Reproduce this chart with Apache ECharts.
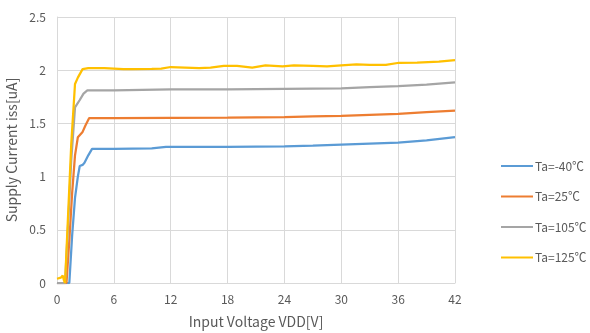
<!DOCTYPE html>
<html>
<head>
<meta charset="utf-8">
<script src="https://cdn.jsdelivr.net/npm/echarts@6/dist/echarts.min.js"></script>
<style>
html,body{margin:0;padding:0;background:#fff;}
#c{width:590px;height:333px;}
</style>
</head>
<body>
<div id="c"></div>
<script>
var seriesNames = ['Ta=-40℃', 'Ta=25℃', 'Ta=105℃', 'Ta=125℃'];
var xTicks = [0, 6, 12, 18, 24, 30, 36, 42];

var xBlue = [0, 1.3, 1.6, 1.9, 2.2, 2.4, 2.7, 2.9, 3.3, 3.7, 6, 10, 10.5, 11.5, 18, 24, 27, 30, 33, 36, 39, 42];
var blueVals = [0, 0, 0.45, 0.8, 1.0, 1.1, 1.11, 1.13, 1.2, 1.26, 1.26, 1.265, 1.27, 1.28, 1.28, 1.283, 1.29, 1.30, 1.31, 1.32, 1.34, 1.37];

var xOrange = [0, 1.0, 1.3, 1.6, 1.9, 2.2, 2.7, 3.0, 3.4, 6, 12, 18, 24, 27, 30, 33, 36, 39, 42];
var orangeVals = [0, 0, 0.4, 0.85, 1.2, 1.37, 1.42, 1.48, 1.55, 1.55, 1.553, 1.555, 1.56, 1.565, 1.57, 1.58, 1.59, 1.605, 1.62];

var xGrey = [0, 0.85, 1.2, 1.5, 1.9, 2.4, 2.8, 3.2, 6, 9, 12, 18, 24, 30, 33, 36, 39, 42];
var greyVals = [0, 0, 0.6, 1.15, 1.65, 1.72, 1.78, 1.81, 1.81, 1.815, 1.82, 1.82, 1.825, 1.83, 1.84, 1.85, 1.865, 1.885];

var xYellow = [0, 0.4, 0.6, 0.75, 0.85, 1.2, 1.5, 1.9, 2.2, 2.7, 3.3, 5, 6, 7, 8, 10, 11, 12, 13.5, 15, 16.2, 17.6, 19, 20.6, 22, 23.8, 25, 27, 28.5, 30, 31.6, 33, 34.7, 36.1, 38, 40.3, 42];
var yellowVals = [0.04, 0.05, 0.07, 0.02, 0, 0.7, 1.3, 1.87, 1.93, 2.01, 2.02, 2.02, 2.015, 2.01, 2.01, 2.012, 2.015, 2.03, 2.025, 2.02, 2.025, 2.04, 2.04, 2.025, 2.045, 2.035, 2.045, 2.04, 2.035, 2.045, 2.055, 2.05, 2.05, 2.07, 2.072, 2.08, 2.095];

function pairs(xs, ys) { return xs.map(function (x, i) { return [x, ys[i]]; }); }

var colors = ['#5b9bd5', '#ed7d31', '#a5a5a5', '#ffc000'];
var xsAll = [xBlue, xOrange, xGrey, xYellow];
var ysAll = [blueVals, orangeVals, greyVals, yellowVals];

var font = '"Noto Sans CJK SC", "Open Sans", sans-serif';
var chart = echarts.init(document.getElementById('c'), null, {renderer: 'canvas'});
chart.setOption({
  animation: false,
  color: colors,
  textStyle: {fontFamily: font},
  grid: {left: 57, right: 135, top: 17, bottom: 50, containLabel: false, outerBoundsMode: 'none'},
  legend: {
    orient: 'vertical',
    left: 496,
    top: 155,
    itemWidth: 32,
    itemHeight: 14,
    itemGap: 18.5,
    icon: 'path://M0,6 L32,6 L32,8 L0,8 Z',
    textStyle: {color: '#595959', fontSize: 12, fontFamily: font, padding: [0, 0, 0, -3]},
    data: seriesNames
  },
  xAxis: {
    type: 'value',
    min: 0, max: 42, interval: 6,
    name: 'Input Voltage VDD[V]',
    nameLocation: 'middle',
    nameGap: 32,
    nameTextStyle: {color: '#595959', fontSize: 14},
    axisLine: {show: true, lineStyle: {color: '#d9d9d9'}},
    axisTick: {show: false},
    axisLabel: {color: '#595959', fontSize: 12, margin: 10},
    splitLine: {show: true, lineStyle: {color: '#d9d9d9'}}
  },
  yAxis: {
    type: 'value',
    min: 0, max: 2.5, interval: 0.5,
    name: 'Supply Current iss[uA]',
    nameLocation: 'middle',
    nameGap: 32,
    nameTextStyle: {color: '#595959', fontSize: 14},
    axisLine: {show: true, lineStyle: {color: '#d9d9d9'}},
    axisTick: {show: false},
    axisLabel: {color: '#595959', fontSize: 12, margin: 11},
    splitLine: {show: true, lineStyle: {color: '#d9d9d9'}}
  },
  series: seriesNames.map(function (n, i) {
    return {
      name: n,
      type: 'line',
      data: pairs(xsAll[i], ysAll[i]),
      showSymbol: false,
      symbol: 'none',
      lineStyle: {width: 2.25, color: colors[i]},
      itemStyle: {color: colors[i]}
    };
  })
});
</script>
</body>
</html>
